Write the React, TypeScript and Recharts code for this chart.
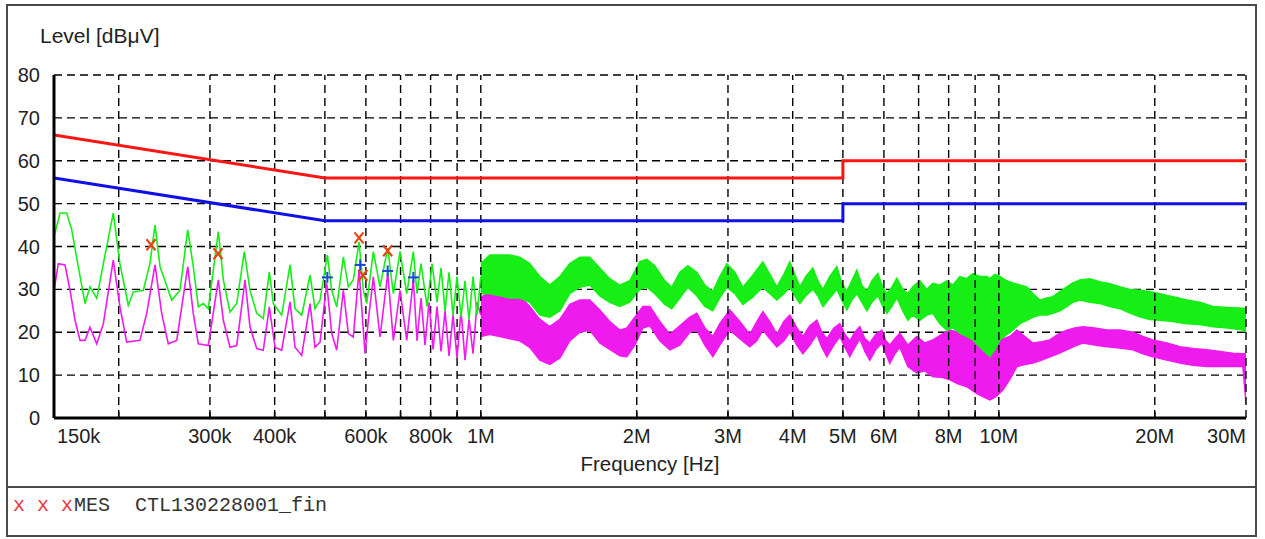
import React from 'react';
import { ComposedChart, Line, Area, Scatter, XAxis, YAxis, CartesianGrid, ReferenceLine } from 'recharts';

// Frequency axis (kHz)
const xAxisTicks = [150, 200, 300, 400, 500, 600, 700, 800, 900, 1000, 2000, 3000, 4000, 5000, 6000, 7000, 8000, 9000, 10000, 20000, 30000];
const xTickLabelMap: Record<number, string> = {
  150: '150k', 300: '300k', 400: '400k', 600: '600k', 800: '800k', 1000: '1M', 2000: '2M', 3000: '3M',
  4000: '4M', 5000: '5M', 6000: '6M', 8000: '8M', 10000: '10M', 20000: '20M', 30000: '30M',
};
const xGridValues = [200, 300, 400, 500, 600, 700, 800, 900, 1000, 2000, 3000, 4000, 5000, 6000, 7000, 8000, 9000, 10000, 20000, 30000];
const yTickValues = [0, 10, 20, 30, 40, 50, 60, 70, 80];

// Limit lines [kHz, dBuV]
const qpLimit: [number, number][] = [[150, 66], [500, 56], [5000, 56], [5000, 60], [30000, 60]];
const avLimit: [number, number][] = [[150, 56], [500, 46], [5000, 46], [5000, 50], [30000, 50]];

// Peak trace (green), low-frequency part
const peakLine: [number, number][] = [
  [150, 42.3], [154.1, 47.8], [158.7, 47.8], [162.3, 43.9], [167.1, 35.3], [172.2, 26.7], [176.0, 30.6],
  [181.4, 27.9], [186.8, 36], [195.2, 47.8], [201.1, 36], [208.7, 26.3], [213.4, 29.4], [223.1, 29.8],
  [229.8, 36], [235.0, 45], [240.3, 35.3], [253.1, 27.5], [262.6, 29.8], [271.8, 43.9], [278.6, 35.3],
  [284.9, 25.9], [291.3, 26.7], [297.8, 25.5], [311.4, 43.5], [318.4, 32.2], [328.0, 24.7], [337.9, 26.7],
  [349.5, 38.8], [358.5, 29.8], [369.3, 24.4], [380.3, 23.2], [390.6, 34.1], [397.6, 26.7], [412.7, 24],
  [428.3, 35.7], [437.9, 25.5], [451.1, 24], [468.1, 33.3], [478.6, 25.5], [489.4, 27.5], [505.5, 38],
  [515.5, 29.8], [527.1, 25.9], [542.8, 37.6], [555.0, 30.6], [567.4, 32.2], [582.0, 41.1], [593.2, 29.8],
  [602.3, 26.7], [620.2, 38.8], [638.9, 30.6], [661.2, 39.6], [677.9, 29], [698.3, 38.8], [719.5, 29],
  [740.9, 38.8], [753.2, 29], [766.7, 36], [787.4, 26], [805.1, 36], [823.2, 27], [838.0, 35], [853.0, 25],
  [868.3, 34], [883.9, 24], [899.7, 33], [915.9, 23.5], [932.3, 32], [949.0, 23], [966.1, 33], [983.4, 24],
  [1000, 33],
];

// Peak trace (green), dense part: [kHz, low, high]
const peakBand: [number, number, number][] = [
  [1000, 29, 36], [1041, 29, 38], [1088, 28.5, 38], [1138, 28, 38], [1189, 28, 37.5], [1243, 27, 36],
  [1300, 24, 33], [1359, 23.5, 31], [1421, 25, 33], [1485, 29, 36], [1553, 30.5, 37.5], [1623, 31, 37.5],
  [1697, 28.5, 35], [1774, 27, 32.5], [1855, 26, 31], [1939, 27, 32], [2027, 30, 36.5], [2092, 30.5, 37],
  [2167, 29, 35.5], [2266, 26.5, 32], [2337, 25.5, 30.5], [2422, 28, 34], [2510, 30.5, 35.5], [2612, 28.5, 34],
  [2707, 26, 31], [2805, 25, 29.5], [2893, 28, 33], [2985, 30.5, 36], [3093, 29, 34], [3205, 26.5, 30.5],
  [3336, 28, 33], [3503, 30.5, 36.4], [3614, 29, 33.5], [3728, 27.5, 30.6], [3846, 29, 33.5], [3950, 30.5, 36.4],
  [4038, 28.5, 33.5], [4129, 26.7, 30.6], [4241, 28.5, 33], [4375, 30, 35], [4473, 28.5, 32], [4574, 26, 30],
  [4718, 28, 33], [4867, 30, 35.3], [4977, 27.5, 31.5], [5089, 25.2, 29.5], [5203, 27.5, 32], [5320, 29, 34.5],
  [5439, 27, 31], [5562, 25, 29.5], [5687, 27, 32], [5840, 28.5, 33.7], [5972, 26, 30.5], [6079, 24.4, 29],
  [6215, 26, 30.5], [6355, 28, 32.6], [6527, 25, 30], [6674, 22.8, 29], [6824, 24, 30.6], [7039, 22.8, 32],
  [7262, 24, 30], [7458, 24.4, 31.4], [7694, 22, 31], [7937, 20.5, 32], [8151, 21, 31], [8409, 19.8, 33],
  [8675, 19, 32.5], [8909, 18.2, 33.7], [9191, 16.5, 33], [9482, 15, 33], [9609, 14.3, 32.5], [9825, 16, 33.5],
  [10046, 18.2, 33], [10363, 19.5, 32], [10643, 20.5, 31.5], [10980, 22, 31], [11327, 22.8, 30.6],
  [11633, 23.5, 29], [12000, 24, 27.5], [12379, 24, 28], [12714, 24.4, 28.3], [13116, 25, 29.5],
  [13530, 26, 30.6], [13896, 27, 31.5], [14335, 27.5, 32.2], [14987, 27, 32.5], [15668, 26.7, 31.8],
  [16380, 26, 31.3], [17124, 25.5, 30.6], [17903, 24.5, 30], [18717, 23.6, 29.8], [19567, 23, 29.5],
  [20457, 22.8, 29], [21674, 22.5, 28.3], [23066, 22, 27.5], [24438, 21.8, 27], [25892, 21.3, 26],
  [27677, 21, 25.8], [29585, 20.5, 25.6], [30000, 20, 25.5],
];

// Average trace (magenta), low-frequency part
const avgLine: [number, number][] = [
  [150, 29.8], [152.9, 36], [157.5, 35.7], [161.1, 29.8], [164.7, 22.8], [168.4, 18.1], [172.2, 18.1],
  [176.0, 21.2], [181.4, 17.3], [186.8, 22], [195.2, 36.8], [201.1, 25.9], [207.2, 17.7], [219.8, 18.1],
  [226.5, 24.4], [235.0, 35.7], [242.1, 24.4], [249.3, 17.3], [258.8, 18.1], [271.8, 35.3], [278.6, 24.4],
  [284.9, 17.3], [297.8, 16.9], [311.4, 32.2], [318.4, 22.8], [328.0, 16.5], [337.9, 16.9], [350.6, 32.2],
  [358.5, 21.2], [369.3, 16.2], [380.3, 15.8], [390.6, 25.9], [400.6, 16.5], [412.7, 15.8], [428.3, 27.1],
  [437.9, 16.5], [451.1, 14.6], [468.1, 26.7], [478.6, 16.5], [489.4, 17.7], [504.1, 31.4], [515.5, 19.7],
  [527.1, 15.8], [542.8, 29.8], [555.0, 19.7], [567.4, 18.9], [582.0, 34.5], [597.7, 15], [606.6, 22.8],
  [620.2, 32.9], [638.9, 18.9], [661.2, 33.7], [677.9, 18.1], [698.3, 29.8], [719.5, 18.1], [740.9, 32.2],
  [753.2, 18], [766.7, 28], [780.4, 17], [794.4, 27], [808.7, 16], [823.2, 26], [838.0, 15.5], [853.0, 25],
  [868.3, 14.5], [883.9, 24], [899.7, 14], [915.9, 25], [932.3, 13.5], [949.0, 23], [966.1, 15], [983.4, 27],
  [1000, 24],
];

// Average trace (magenta), dense part: [kHz, low, high]
const avgBand: [number, number, number][] = [
  [1000, 19, 28], [1041, 19.5, 29.8], [1088, 19, 29.5], [1138, 18.5, 29], [1189, 18, 28.5], [1243, 16.5, 26],
  [1300, 13.5, 23], [1359, 12.5, 21.3], [1421, 14, 23], [1485, 18, 26.5], [1553, 20, 27.5], [1623, 20.5, 27.5],
  [1697, 17.5, 25.2], [1774, 16, 22.5], [1855, 14.5, 20.5], [1914, 14.3, 21], [1983, 17, 23.5], [2055, 21, 26],
  [2120, 21.5, 26], [2216, 18, 22.5], [2317, 15.9, 19.5], [2422, 17, 21.5], [2532, 20, 23.5], [2612, 20.5, 24.4],
  [2707, 17, 21], [2805, 14.3, 19], [2893, 17, 22], [3025, 20.5, 25.2], [3162, 18.5, 22.5], [3306, 16.6, 19.5],
  [3411, 18, 22.5], [3503, 20.5, 24.8], [3614, 18.5, 22.5], [3728, 16.6, 19.5], [3846, 18, 22.5], [3950, 20, 24],
  [4074, 17, 21], [4185, 15, 19], [4317, 17, 21.5], [4453, 19.5, 22.8], [4553, 16.5, 20], [4656, 14.3, 18.5],
  [4803, 17, 21], [4933, 19, 22], [5044, 16.5, 19.5], [5157, 14.3, 18], [5273, 16.5, 20], [5391, 18.5, 21.3],
  [5512, 15.5, 18.5], [5636, 13.5, 17.5], [5789, 16, 19.5], [5945, 17.5, 20.5], [6052, 15, 18], [6160, 12.7, 17],
  [6299, 15, 18.5], [6440, 16.5, 19.8], [6674, 12, 17], [6946, 10.5, 19], [7198, 11, 17.5], [7458, 9.6, 18.2],
  [7763, 9.5, 19.5], [8044, 8.9, 20.5], [8335, 8, 20], [8675, 7.3, 21.3], [8870, 6.5, 20], [9069, 5.7, 19],
  [9314, 5, 18.5], [9609, 4.2, 18], [9869, 5, 18.5], [10181, 6.5, 18.5], [10502, 9, 19], [10834, 12, 20.5],
  [11227, 12.5, 19], [11633, 12.8, 17.5], [12107, 13.5, 17.8], [12545, 14.3, 18.2], [12999, 15, 19.5],
  [13530, 15.9, 20.5], [14020, 16.8, 21], [14527, 17.5, 21.3], [15323, 17, 21], [16163, 16.6, 20.5],
  [17124, 16.3, 20.5], [18143, 15.9, 20], [18968, 15, 19], [19830, 14.3, 18.2], [21103, 13.5, 17.5],
  [22359, 12.8, 16.6], [23689, 12.3, 16.2], [25210, 12, 15.9], [26710, 12, 15.5], [28299, 12, 15.1],
  [29585, 12, 15], [30000, 3.5, 15],
];

// Final measurement markers
const qpMarks: [number, number][] = [[230.9, 40.4], [311, 38.3], [582, 42], [592, 33.3], [661, 39]];
const avMarks: [number, number][] = [[505.5, 32.8], [585, 35.7], [661, 34.3], [741, 32.8]];

const toPts = (a: [number, number][]) => a.map(([f, v]) => ({ f, v }));
const toBand = (a: [number, number, number][]) => a.map(([f, lo, hi]) => ({ f, v: [lo, hi] }));

const GREEN = '#16ee16';
const MAG = '#ee1aee';
const RED = '#ff1414';
const BLUE = '#1010e6';
const FONT = '"Liberation Sans", Arial, sans-serif';

const renderXTick = (props: any) => {
  const { x, y, payload } = props;
  const label = xTickLabelMap[payload.value];
  const first = payload.value === 150;
  const last = payload.value === 30000;
  return (
    <g>
      {!first && !last && <line x1={x} y1={y - 1} x2={x} y2={y - 6} stroke="#000" strokeWidth={1.5} />}
      {label && (
        <text x={first ? x + 3 : x} y={y + 25} textAnchor={first ? 'start' : last ? 'end' : 'middle'}
          fontSize={20} fill="#222" fontFamily={FONT}>{label}</text>
      )}
    </g>
  );
};

const CrossX = (p: any) => {
  const { cx, cy } = p;
  return (
    <g stroke="#e4461c" strokeWidth={2.2}>
      <line x1={cx - 4.5} y1={cy - 5.5} x2={cx + 4.5} y2={cy + 5.5} />
      <line x1={cx + 4.5} y1={cy - 5.5} x2={cx - 4.5} y2={cy + 5.5} />
    </g>
  );
};
const Plus = (p: any) => {
  const { cx, cy } = p;
  return (
    <g stroke="#1a46d4" strokeWidth={2}>
      <line x1={cx - 5.5} y1={cy} x2={cx + 5.5} y2={cy} />
      <line x1={cx} y1={cy - 5.5} x2={cx} y2={cy + 5.5} />
    </g>
  );
};

export default function App() {
  return (
    <div style={{ position: 'absolute', left: 0, top: 0, width: 1265, height: 539, background: '#fff', overflow: 'hidden' }}>
      <ComposedChart width={1265} height={539} margin={{ top: 75, right: 19, bottom: 0, left: 0 }}>
        <CartesianGrid horizontal vertical={false} stroke="#000" strokeDasharray="8 5" strokeWidth={1.4} />
        {xGridValues.map((v) => (
          <ReferenceLine key={v} x={v} stroke="#000" strokeDasharray="8 5" strokeWidth={1.4} />
        ))}
        <XAxis dataKey="f" type="number" scale="log" domain={[150, 30000]} allowDataOverflow ticks={xAxisTicks}
          interval={0} tick={renderXTick} tickLine={false} tickSize={0} tickMargin={0}
          axisLine={{ stroke: '#000', strokeWidth: 3 }} height={121} />
        <YAxis type="number" domain={[0, 80]} ticks={yTickValues} interval={0} allowDataOverflow tickLine={false}
          tickMargin={8} axisLine={{ stroke: '#000', strokeWidth: 3 }} width={54}
          tick={{ fontSize: 20, fill: '#222', fontFamily: FONT }} />
        <Area data={toBand(avgBand)} dataKey="v" type="linear" stroke={MAG} strokeWidth={1.5} fill={MAG} fillOpacity={1}
          isAnimationActive={false} dot={false} activeDot={false} />
        <Line data={toPts(avgLine)} dataKey="v" type="linear" stroke={MAG} strokeWidth={1.6} dot={false}
          activeDot={false} isAnimationActive={false} />
        <Area data={toBand(peakBand)} dataKey="v" type="linear" stroke={GREEN} strokeWidth={1.5} fill={GREEN} fillOpacity={1}
          isAnimationActive={false} dot={false} activeDot={false} />
        <Line data={toPts(peakLine)} dataKey="v" type="linear" stroke={GREEN} strokeWidth={1.6} dot={false}
          activeDot={false} isAnimationActive={false} />
        <Line data={toPts(qpLimit)} dataKey="v" type="linear" stroke={RED} strokeWidth={3} dot={false}
          activeDot={false} isAnimationActive={false} />
        <Line data={toPts(avLimit)} dataKey="v" type="linear" stroke={BLUE} strokeWidth={3} dot={false}
          activeDot={false} isAnimationActive={false} />
        <Scatter data={toPts(qpMarks)} dataKey="v" shape={CrossX} isAnimationActive={false} />
        <Scatter data={toPts(avMarks)} dataKey="v" shape={Plus} isAnimationActive={false} />
      </ComposedChart>
      <svg width={1265} height={539} style={{ position: 'absolute', left: 0, top: 0, pointerEvents: 'none' }}>
        <rect x={7} y={5} width={1249} height={531} fill="none" stroke="#4a4a4a" strokeWidth={2} />
        <line x1={7} y1={487} x2={1256} y2={487} stroke="#4a4a4a" strokeWidth={2} />
        <text x={40} y={42.7} fontSize={21} fill="#222" fontFamily={FONT}>Level [dBμV]</text>
        <text x={650} y={471} fontSize={20.5} fill="#222" fontFamily={FONT} textAnchor="middle">Frequency [Hz]</text>
        <text y={511} fontSize={20} fontFamily='"Liberation Mono", "Courier New", monospace'>
          <tspan x={13} fill="#e8383a">x</tspan>
          <tspan x={37} fill="#e8383a">x</tspan>
          <tspan x={61} fill="#e8383a">x</tspan>
          <tspan x={74} fill="#333">MES</tspan>
          <tspan x={135} fill="#333">CTL130228001_fin</tspan>
        </text>
      </svg>
    </div>
  );
}
